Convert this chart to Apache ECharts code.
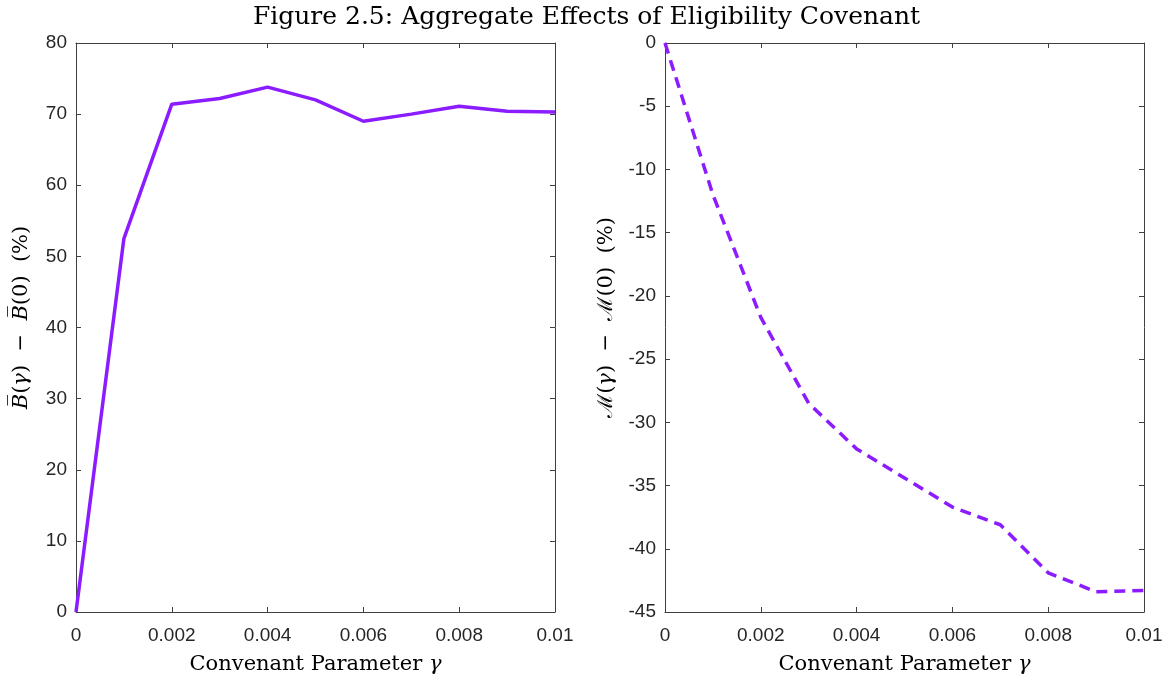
<!DOCTYPE html>
<html>
<head>
<meta charset="utf-8">
<script src="https://cdn.jsdelivr.net/npm/echarts@6/dist/echarts.min.js"></script>
<style>html,body{margin:0;padding:0;background:#fff}#c{width:1173px;height:680px}</style>
</head>
<body>
<div id="c"></div>
<script>
const gamma = [0, 0.001, 0.002, 0.003, 0.004, 0.005, 0.006, 0.007, 0.008, 0.009, 0.01];
const debtChange = [0, 52.5, 71.4, 72.2, 73.8, 72.0, 69.0, 70.0, 71.1, 70.4, 70.3];
const markupChange = [0, -12.0, -21.7, -28.5, -32.1, -34.4, -36.7, -38.1, -41.9, -43.4, -43.3];
const titleText = 'Figure 2.5: Aggregate Effects of Eligibility Covenant';
const xName = 'Convenant Parameter {i|γ}';
const leftYName = '{i|B̅}({i|γ})  −  {i|B̅}(0)  (%)';
const rightYName = '{m|ℳ}({i|γ})  −  {m|ℳ}(0)  (%)';

const chart = echarts.init(document.getElementById('c'), null, {renderer: 'canvas'});
const axisColor = '#404040';
const tickFont = {fontFamily: '"Liberation Sans", Arial, sans-serif', fontSize: 19, color: '#262626'};
const serif = '"DejaVu Serif", "Liberation Serif", serif';
const rich = {
  i: {fontFamily: serif, fontStyle: 'italic', fontSize: 21, color: '#000'},
  m: {fontFamily: serif, fontSize: 21, color: '#000'}
};
const fmtX = v => (+v.toFixed(3)).toString();
const lineCommon = {show: true, onZero: false, lineStyle: {color: axisColor, width: 1}};
const tickCommon = {show: true, inside: true, length: 5, lineStyle: {color: axisColor}};

function xAxes(gi) {
  return [{
    type: 'value', gridIndex: gi, min: 0, max: 0.01, interval: 0.002, position: 'bottom',
    axisLine: lineCommon, axisTick: tickCommon,
    axisLabel: Object.assign({margin: 14, formatter: fmtX}, tickFont),
    splitLine: {show: false},
    name: xName, nameLocation: 'middle', nameGap: 42,
    nameTextStyle: {fontFamily: serif, fontSize: 21, color: '#000', rich: rich}
  }, {
    type: 'value', gridIndex: gi, min: 0, max: 0.01, interval: 0.002, position: 'top',
    axisLine: lineCommon, axisTick: tickCommon,
    axisLabel: {show: false}, splitLine: {show: false}
  }];
}
function yAxes(gi, min, max, interval, name, gap) {
  return [{
    type: 'value', gridIndex: gi, min: min, max: max, interval: interval, position: 'left',
    axisLine: lineCommon, axisTick: tickCommon,
    axisLabel: Object.assign({margin: 9}, tickFont),
    splitLine: {show: false},
    name: name, nameLocation: 'middle', nameGap: gap, nameRotate: 90,
    nameTextStyle: {fontFamily: serif, fontSize: 21, color: '#000', rich: rich, padding: [0, 0, 0, 20]}
  }, {
    type: 'value', gridIndex: gi, min: min, max: max, interval: interval, position: 'right',
    axisLine: lineCommon, axisTick: tickCommon,
    axisLabel: {show: false}, splitLine: {show: false}
  }];
}

const option = {
  backgroundColor: '#fff',
  animation: false,
  title: {
    text: titleText, left: 'center', top: 0,
    textStyle: {fontFamily: serif, fontSize: 25, fontWeight: 'normal', color: '#000'}
  },
  grid: [
    {left: 76, right: 618, top: 43, bottom: 67},
    {left: 665, right: 29, top: 43, bottom: 67}
  ],
  xAxis: xAxes(0).concat(xAxes(1)),
  yAxis: yAxes(0, 0, 80, 10, leftYName, 44).concat(yAxes(1, -45, 0, 5, rightYName, 48)),
  series: [{
    type: 'line', xAxisIndex: 0, yAxisIndex: 0, symbol: 'none',
    data: gamma.map((g, i) => [g, debtChange[i]]),
    lineStyle: {color: '#8b1cff', width: 3.5}
  }, {
    type: 'line', xAxisIndex: 2, yAxisIndex: 2, symbol: 'none',
    data: gamma.map((g, i) => [g, markupChange[i]]),
    lineStyle: {color: '#8b1cff', width: 3.5, type: [11, 7]}
  }]
};
chart.setOption(option);
</script>
</body>
</html>
